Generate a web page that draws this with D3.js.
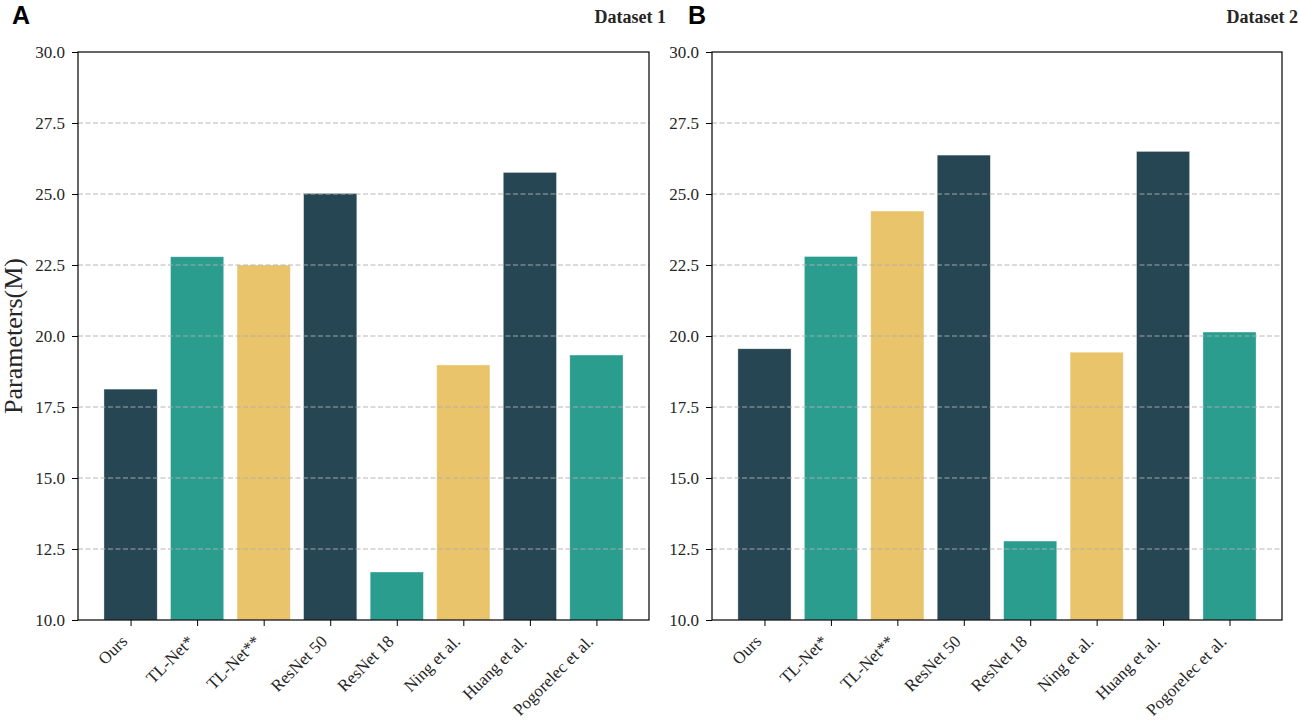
<!DOCTYPE html>
<html>
<head>
<meta charset="utf-8">
<script src="https://cdn.jsdelivr.net/npm/d3@7"></script>
<style>
  body { margin: 0; background: #fff; }
  svg text { font-family: "Liberation Serif", "Times New Roman", serif; }
</style>
</head>
<body>
<svg id="chart" width="1299" height="721"></svg>
<script>
const models = ['Ours', 'TL-Net*', 'TL-Net**', 'ResNet 50', 'ResNet 18', 'Ning et al.', 'Huang et al.', 'Pogorelec et al.'];
const dataset1 = [18.13, 22.79, 22.5, 25.02, 11.69, 18.98, 25.76, 19.33];
const dataset2 = [19.55, 22.8, 24.4, 26.37, 12.78, 19.43, 26.5, 20.14];
const yTicks = [10.0, 12.5, 15.0, 17.5, 20.0, 22.5, 25.0, 27.5, 30.0];
const barColors = ['#264653', '#2a9d8f', '#e9c46a'];

const svg = d3.select('#chart');
const plotTop = 52, plotBottom = 620;

const panels = [
  { letter: 'A', title: 'Dataset 1', values: dataset1, left: 78, right: 649, letterX: 12, titleX: 666 },
  { letter: 'B', title: 'Dataset 2', values: dataset2, left: 712, right: 1282, letterX: 688, titleX: 1298 },
];

panels.forEach((p, pi) => {
  const x = d3.scaleLinear().domain([-0.79, models.length - 1 + 0.79]).range([p.left, p.right]);
  const y = d3.scaleLinear().domain([10, 30]).range([plotBottom, plotTop]);
  const unit = x(1) - x(0);
  const g = svg.append('g');

  // bars
  g.selectAll('rect.bar')
    .data(p.values)
    .enter()
    .append('rect')
    .attr('class', 'bar')
    .attr('x', (d, i) => x(i) - unit * 0.4)
    .attr('width', unit * 0.8)
    .attr('y', d => y(d))
    .attr('height', d => y(10) - y(d))
    .attr('fill', (d, i) => barColors[i % 3])
    .attr('stroke', 'rgba(255,255,255,0.6)')
    .attr('stroke-width', 0.6);

  // grid over bars
  g.selectAll('line.grid')
    .data(yTicks.slice(1, -1))
    .enter()
    .append('line')
    .attr('class', 'grid')
    .attr('x1', p.left).attr('x2', p.right)
    .attr('y1', d => y(d)).attr('y2', d => y(d))
    .attr('stroke', '#b0b0b0')
    .attr('stroke-width', 1)
    .attr('stroke-dasharray', '5,2.5')
    .attr('opacity', 0.9);

  // frame
  g.append('rect')
    .attr('x', p.left).attr('y', plotTop)
    .attr('width', p.right - p.left).attr('height', plotBottom - plotTop)
    .attr('fill', 'none').attr('stroke', '#000').attr('stroke-width', 1.2);

  // y axis
  const yAxis = d3.axisLeft(y).tickValues(yTicks).tickFormat(d3.format('.1f')).tickSize(6).tickPadding(7);
  const ya = g.append('g').attr('transform', `translate(${p.left},0)`).call(yAxis);
  ya.select('.domain').remove();
  ya.selectAll('text').attr('font-size', 17).attr('fill', '#262626')
    .style('font-family', '"Liberation Serif", serif');
  ya.selectAll('line').attr('stroke', '#000');

  // x axis
  const xa = g.append('g').attr('transform', `translate(0,${plotBottom})`)
    .call(d3.axisBottom(x).tickValues(d3.range(models.length)).tickFormat(i => models[i]).tickSize(6));
  xa.select('.domain').remove();
  xa.selectAll('line').attr('stroke', '#000');
  xa.selectAll('text')
    .attr('font-size', 17).attr('fill', '#262626')
    .style('font-family', '"Liberation Serif", serif')
    .attr('text-anchor', 'end')
    .attr('dy', '0.7em')
    .attr('y', 0)
    .attr('transform', 'translate(-11,14) rotate(-45)');

  // panel letter
  svg.append('text')
    .attr('x', p.letterX).attr('y', 24)
    .attr('font-size', 25).attr('font-weight', 'bold')
    .style('font-family', '"Liberation Sans", Arial, sans-serif')
    .text(p.letter);

  // title
  svg.append('text')
    .attr('x', p.titleX).attr('y', 23)
    .attr('text-anchor', 'end')
    .attr('font-size', 18).attr('font-weight', 'bold')
    .attr('fill', '#262626')
    .text(p.title);

  if (pi === 0) {
    svg.append('text')
      .attr('transform', `translate(22,${(plotTop + plotBottom) / 2}) rotate(-90)`)
      .attr('text-anchor', 'middle')
      .attr('font-size', 26)
      .attr('fill', '#262626')
      .text('Parameters(M)');
  }
});
</script>
</body>
</html>
